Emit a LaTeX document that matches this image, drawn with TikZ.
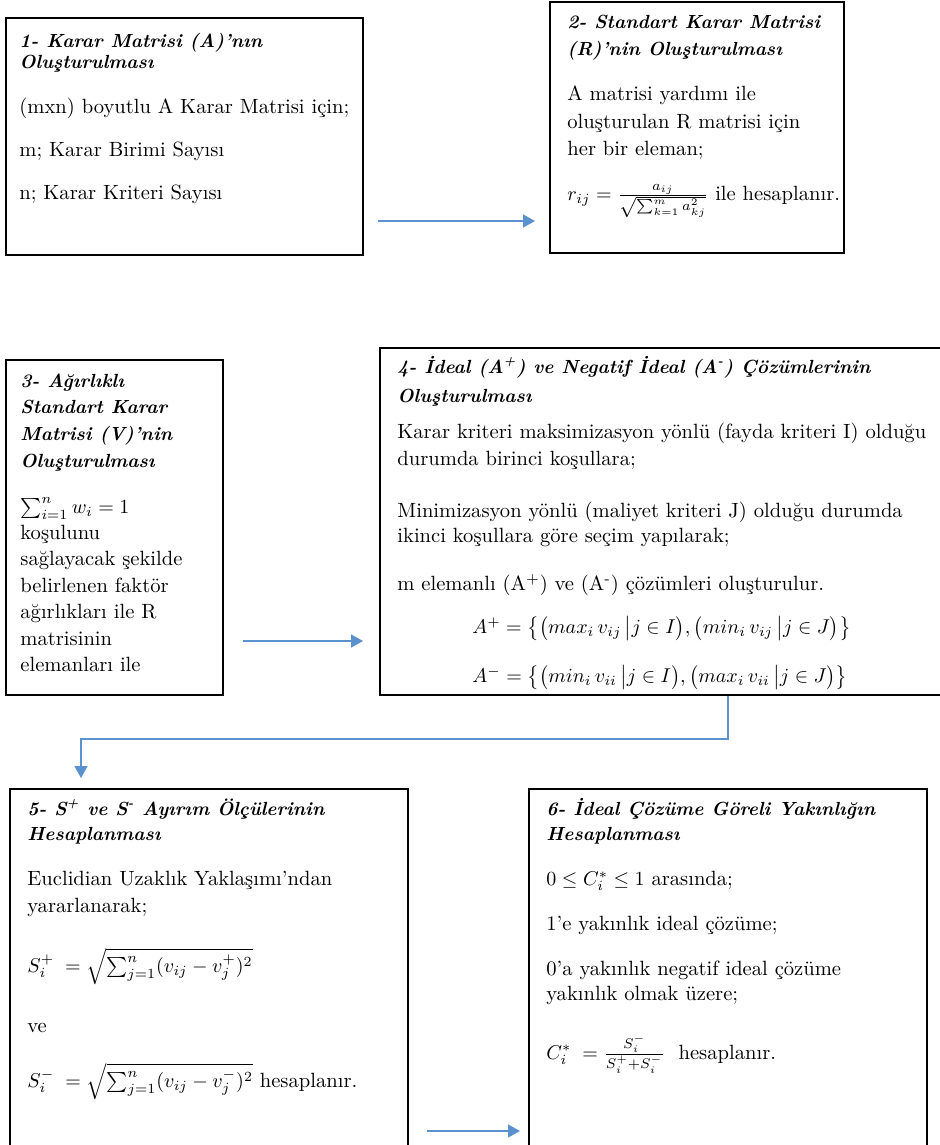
\documentclass[tikz,border=0pt]{standalone}
\usepackage{amsmath}
\usepackage{fontspec}
\usetikzlibrary{arrows.meta,calc}
\definecolor{flowblue}{RGB}{91,146,206}
\tikzset{
  stepbox/.style={draw,line width=1pt,inner sep=0pt,anchor=north west},
  steptext/.style={anchor=north west,inner sep=0pt,align=left,font=\fontsize{10.3}{13.25}\selectfont},
  flow/.style={draw=flowblue,line width=0.8pt,-{Triangle[length=6pt,width=6.5pt]}}
}
\newcommand{\ttl}[1]{{\fontsize{9.5}{13.25}\selectfont\textbf{\textit{#1}}}}
\newcommand{\fst}{\rule{0pt}{10pt}}
\begin{document}
\begin{tikzpicture}[x=1pt,y=-1pt]
  \useasboundingbox (0,0) rectangle (470,572.5);
  \clip (0,0) rectangle (470,572.5);
  % boxes
  \node[stepbox,minimum width=178.5pt,minimum height=118.5pt] (box1) at (2.5,8.5) {};
  \node[stepbox,minimum width=147pt,minimum height=125.5pt] (box2) at (274.5,0.5) {};
  \node[stepbox,minimum width=108.5pt,minimum height=167.5pt] (box3) at (2.5,179.5) {};
  \node[stepbox,minimum width=292pt,minimum height=173.5pt] (box4) at (189.5,173.5) {};
  \node[stepbox,minimum width=199pt,minimum height=206pt] (box5) at (4.5,394) {};
  \node[stepbox,minimum width=199pt,minimum height=206pt] (box6) at (264,394) {};
  % texts
  \node[steptext] (txt1) at ($(box1.north west)+(7,5)$) {%
    \fst\ttl{1- Karar Matrisi (A)’nın}\\[-2.5pt]
    \ttl{Oluşturulması}\\[9pt]
    (mxn) boyutlu A Karar Matrisi için;\\[8.5pt]
    m; Karar Birimi Sayısı\\[8pt]
    n; Karar Kriteri Sayısı};
  \node[steptext] (txt2) at ($(box2.north west)+(9,3.5)$) {%
    \fst\ttl{2- Standart Karar Matrisi}\\[0.25pt]
    \ttl{(R)’nin Oluşturulması}\\[9.25pt]
    A matrisi yardımı ile\\[0.75pt]
    oluşturulan R matrisi için\\[0.25pt]
    her bir eleman;\\[9.25pt]
    $r_{ij}=\frac{a_{ij}}{\sqrt{\sum_{k=1}^{m}a_{kj}^{2}}}$ ile hesaplanır.};
  \node[steptext] (txt3) at ($(box3.north west)+(7.5,4)$) {%
    \fst\ttl{3- Ağırlıklı}\\
    \ttl{Standart Karar}\\
    \ttl{Matrisi (V)’nin}\\[0.5pt]
    \ttl{Oluşturulması}\\[9.75pt]
    $\sum_{i=1}^{n}w_i=1$\\[-0.5pt]
    koşulunu\\
    sağlayacak şekilde\\
    belirlenen faktör\\
    ağırlıkları ile R\\
    matrisinin\\
    elemanları ile};
  \node[steptext] (txt4) at ($(box4.north west)+(9,3)$) {%
    \fst\ttl{4- İdeal (A\textsuperscript{+}) ve Negatif İdeal (A\textsuperscript{-}) Çözümlerinin}\\[1.25pt]
    \ttl{Oluşturulması}\\[4.75pt]
    Karar kriteri maksimizasyon yönlü (fayda kriteri I) olduğu\\[0.25pt]
    durumda birinci koşullara;\\[12.75pt]
    Minimizasyon yönlü (maliyet kriteri J) olduğu durumda\\[-0.75pt]
    ikinci koşullara göre seçim yapılarak;\\[10.75pt]
    m elemanlı (A\textsuperscript{+}) ve (A\textsuperscript{-}) çözümleri oluşturulur.\\[8.25pt]
    \hspace*{37.5pt}$A^{+}=\bigl\{\bigl(max_i\,v_{ij}\,\big|j\in I\bigr),\bigl(min_i\,v_{ij}\,\big|j\in J\bigr)\bigr\}$\\[11.25pt]
    \hspace*{37.5pt}$A^{-}=\bigl\{\bigl(min_i\,v_{ii}\,\big|j\in I\bigr),\bigl(max_i\,v_{ii}\,\big|j\in J\bigr)\bigr\}$};
  \node[steptext] (txt5) at ($(box5.north west)+(9,3.5)$) {%
    \fst\ttl{5- S\textsuperscript{+} ve S\textsuperscript{-} Ayırım Ölçülerinin}\\[-0.75pt]
    \ttl{Hesaplanması}\\[9.25pt]
    Euclidian Uzaklık Yaklaşımı’ndan\\[0.25pt]
    yararlanarak;\\[14.75pt]
    $S_i^{+}\;=\sqrt{\sum_{j=1}^{n}(v_{ij}-v_j^{+})^2}$\\[16.75pt]
    ve\\[14.25pt]
    $S_i^{-}\;=\sqrt{\sum_{j=1}^{n}(v_{ij}-v_j^{-})^2}$ hesaplanır.};
  \node[steptext] (txt6) at ($(box6.north west)+(9,3.5)$) {%
    \fst\ttl{6- İdeal Çözüme Göreli Yakınlığın}\\[-0.75pt]
    \ttl{Hesaplanması}\\[9.25pt]
    $0\le C_i^{*}\le 1$ arasında;\\[9.25pt]
    1’e yakınlık ideal çözüme;\\[9.25pt]
    0’a yakınlık negatif ideal çözüme\\[-0.75pt]
    yakınlık olmak üzere;\\[14.25pt]
    $C_i^{*}\;=\frac{S_i^{-}}{S_i^{+}+S_i^{-}}$\ \ hesaplanır.};
  % arrows
  \coordinate (a1) at ($(box1.south east)+(7,-17.5)$);
  \coordinate (a2) at ($(box3.south east)+(9.5,-27.5)$);
  \coordinate (a3) at ($(box4.south west)+(174.5,0)$);
  \coordinate (a4) at ($(box5.north east)+(9,171.5)$);
  \draw[flow,shorten >=7pt] (a1) -- (a1 -| box2.west);
  \draw[flow,shorten >=8pt] (a2) -- (a2 -| box4.west);
  \draw[flow,shorten >=5pt] (a3) -- ++(0,21.5) -| ($(box5.north west)+(36,0)$);
  \draw[flow,shorten >=4pt] (a4) -- (a4 -| box6.west);
\end{tikzpicture}
\end{document}
